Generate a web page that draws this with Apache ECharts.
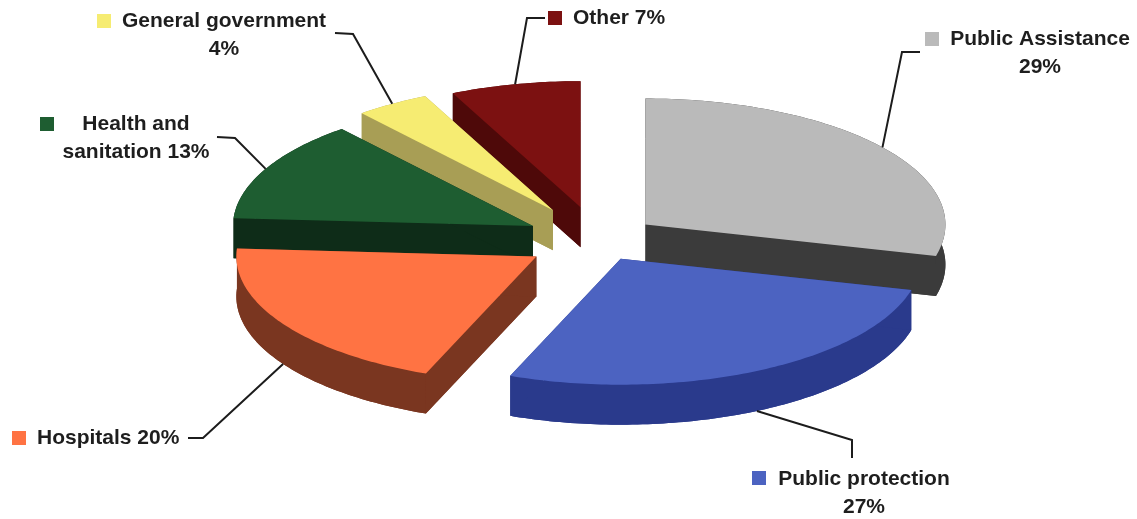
<!DOCTYPE html>
<html><head><meta charset="utf-8">
<script src="https://cdn.jsdelivr.net/npm/echarts@6/dist/echarts.min.js"></script>
<style>html,body{margin:0;padding:0;background:#fff}#chart{width:1137px;height:519px}</style>
</head><body><div id="chart"></div>
<script>
// ---- data ----
const categories = ['Public Assistance', 'Public protection', 'Hospitals', 'Health and sanitation', 'General government', 'Other'];
const values = [29, 27, 20, 13, 4, 7];
const labelTexts = ['Public Assistance\n29%', 'Public protection\n27%', 'Hospitals 20%', 'Health and\nsanitation 13%', 'General government\n4%', 'Other 7%'];

// ---- styles ----
const topColors  = ['#bababa', '#4c63c1', '#ff7343', '#1e5d31', '#f6ec72', '#7c1111'];
const wallColors = ['#3b3b3b', '#2a3a8c', '#7a3620', '#0e2c18', '#a89e55', '#4e0909'];
const explode    = [60, 50, 73, 73, 84, 80];
// label layout: text anchor, legend square, leader-line elbow points (label side)
const labelLayout = [
  { x: 1040, y: 53,  align: 'center', sq: [925, 32],  elbow: [[920, 52], [902, 52]] },
  { x: 864,  y: 493, align: 'center', sq: [752, 471], elbow: [[852, 458], [852, 440]] },
  { x: 37,   y: 438, align: 'left',   sq: [12, 431],  elbow: [[188, 438], [203, 438]] },
  { x: 136,  y: 138, align: 'center', sq: [40, 117],  elbow: [[217, 137], [235, 138]] },
  { x: 224,  y: 35,  align: 'center', sq: [97, 14],   elbow: [[335, 33], [353, 34]] },
  { x: 573,  y: 18,  align: 'left',   sq: [548, 11],  elbow: [[545, 18], [527, 18]] }
];
const CX = 598, CY = 240, RX = 300, RY = 126, DEPTH = 40, EK = RY / RX;
const FONT = 'bold 21px "Liberation Sans", Arial, Helvetica, sans-serif';

const total = values.reduce((a, b) => a + b, 0);
const starts = [];
{ let acc = 0; values.forEach(v => { starts.push(acc / total * Math.PI * 2); acc += v; }); }

function apexOf(i) {
  const mid = starts[i] + values[i] / total * Math.PI;
  return [CX + explode[i] * Math.sin(mid), CY - explode[i] * EK * Math.cos(mid)];
}
const apexes = values.map((v, i) => apexOf(i));
const order = apexes.map((a, i) => i).sort((a, b) => apexes[a][1] - apexes[b][1]);
const rank = []; order.forEach((idx, r) => rank[idx] = r);

function pt(ap, th, dy) { return [ap[0] + RX * Math.sin(th), ap[1] - RY * Math.cos(th) + (dy || 0)]; }

function renderItem(params, api) {
  const i = params.dataIndex;
  const v = values[i];
  const a0 = starts[i], a1 = a0 + v / total * Math.PI * 2;
  const ap = apexes[i];
  const n = Math.max(4, Math.ceil((a1 - a0) / (Math.PI / 180)));
  const arcTop = [], arcBot = [];
  for (let k = 0; k <= n; k++) {
    const th = a0 + (a1 - a0) * k / n;
    arcTop.push(pt(ap, th, 0));
    arcBot.push(pt(ap, th, DEPTH));
  }
  const apB = [ap[0], ap[1] + DEPTH];
  const zb = rank[i] * 10;
  const wall = wallColors[i];
  const children = [];
  // bottom face
  children.push({ type: 'polygon', shape: { points: [apB].concat(arcBot) }, style: { fill: wall }, z2: zb });
  // outer wall
  children.push({ type: 'polygon', shape: { points: arcTop.concat(arcBot.slice().reverse()) }, style: { fill: wall }, z2: zb });
  // radial walls
  children.push({ type: 'polygon', shape: { points: [ap, arcTop[0], arcBot[0], apB] }, style: { fill: wall }, z2: zb });
  children.push({ type: 'polygon', shape: { points: [ap, arcTop[n], arcBot[n], apB] }, style: { fill: wall }, z2: zb });
  // top face
  children.push({ type: 'polygon', shape: { points: [ap].concat(arcTop) }, style: { fill: topColors[i] }, z2: zb + 1 });

  // leader line
  const mid = (a0 + a1) / 2;
  const attach = pt(ap, mid, Math.cos(mid) < 0 ? DEPTH : 0);
  const L = labelLayout[i];
  children.push({ type: 'polyline', shape: { points: L.elbow.concat([attach]) },
    style: { stroke: '#1c1c1c', lineWidth: 2, fill: null }, z2: 100 });
  // legend square
  children.push({ type: 'rect', shape: { x: L.sq[0], y: L.sq[1], width: 14, height: 14 },
    style: { fill: topColors[i] }, z2: 100 });
  // label text
  children.push({ type: 'text', z2: 100, style: {
    text: labelTexts[i], x: L.x, y: L.y, fill: '#1e1e1e', font: FONT,
    align: L.align, textAlign: L.align, verticalAlign: 'middle', textVerticalAlign: 'middle', lineHeight: 28 } });
  return { type: 'group', children };
}

const chart = echarts.init(document.getElementById('chart'), null, { renderer: 'canvas' });
chart.setOption({
  animation: false,
  backgroundColor: '#ffffff',
  series: [{
    type: 'custom',
    coordinateSystem: 'none',
    renderItem: renderItem,
    data: values.map((v, i) => ({ name: categories[i], value: v }))
  }]
});
</script>
</body></html>
